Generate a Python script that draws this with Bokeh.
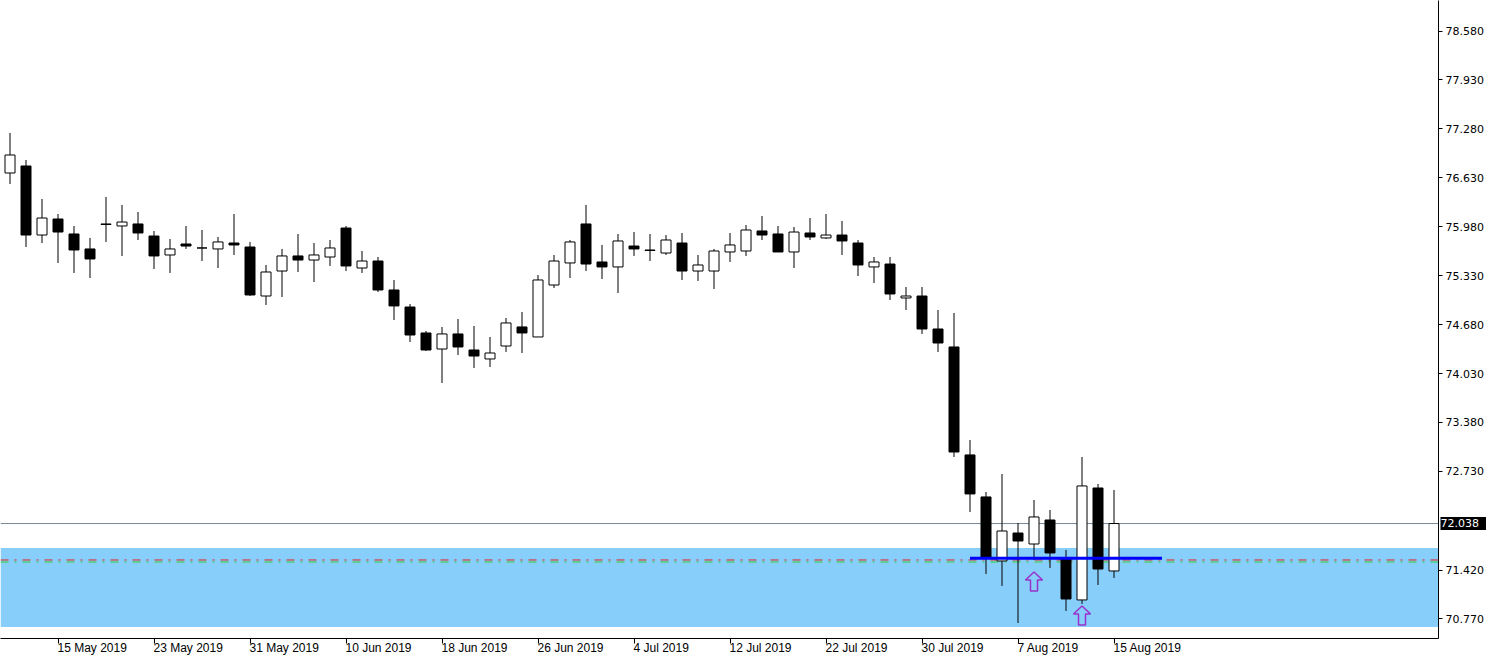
import pandas as pd
from bokeh.plotting import figure
from bokeh.models import (Range1d, LinearAxis, FixedTicker, NumeralTickFormatter,
                          CustomJSTickFormatter, BoxAnnotation, Span, Label, ColumnDataSource)
from bokeh.embed import file_html
from bokeh.resources import INLINE

# ---------------- data (daily candles, 10 May – 15 Aug 2019) ----------------
bar_dates = [d.strftime("%d %b %Y") for d in pd.bdate_range("2019-05-10", "2019-08-15")]

opens = [76.694, 76.787, 75.870, 76.083, 75.884, 75.685, 76.017, 75.990, 76.017, 75.857,
         75.605, 75.751, 75.698, 75.685, 75.764, 75.711, 75.060, 75.392, 75.592, 75.538,
         75.578, 75.963, 75.432, 75.525, 75.140, 74.914, 74.569, 74.356, 74.556, 74.343,
         74.224, 74.396, 74.649, 74.516, 75.206, 75.499, 76.017, 75.512, 75.446, 75.724,
         75.671, 75.631, 75.764, 75.392, 75.392, 75.645, 75.658, 75.924, 75.884, 75.645,
         75.897, 75.831, 75.870, 75.764, 75.446, 75.485, 75.034, 75.060, 74.622, 74.383,
         72.949, 72.391, 71.541, 71.912, 71.766, 72.085, 71.580, 71.023, 72.510, 71.408]
highs = [77.225, 76.867, 76.349, 76.149, 75.990, 75.831, 76.375, 76.269, 76.176, 75.924,
         75.817, 75.990, 75.937, 75.844, 76.149, 75.778, 75.472, 75.685, 75.884, 75.764,
         75.804, 75.990, 75.658, 75.578, 75.273, 74.954, 74.595, 74.649, 74.755, 74.662,
         74.516, 74.768, 74.848, 75.339, 75.605, 75.804, 76.269, 75.738, 75.884, 75.910,
         75.884, 75.870, 75.897, 75.605, 75.685, 75.897, 76.003, 76.123, 75.990, 75.977,
         76.096, 76.149, 76.056, 75.804, 75.578, 75.578, 75.180, 75.180, 74.874, 74.835,
         73.148, 72.457, 72.696, 72.045, 72.351, 72.218, 71.687, 72.922, 72.563, 72.484]
lows = [76.548, 75.711, 75.764, 75.499, 75.366, 75.299, 75.778, 75.592, 75.804, 75.419,
        75.366, 75.685, 75.525, 75.432, 75.605, 75.060, 74.941, 75.047, 75.379, 75.246,
        75.459, 75.392, 75.366, 75.113, 74.742, 74.449, 74.330, 73.905, 74.277, 74.104,
        74.117, 74.317, 74.303, 74.516, 75.167, 75.299, 75.392, 75.286, 75.100, 75.592,
        75.525, 75.605, 75.273, 75.260, 75.153, 75.512, 75.592, 75.804, 75.645, 75.432,
        75.804, 75.817, 75.605, 75.326, 75.233, 75.007, 74.874, 74.556, 74.317, 72.922,
        72.191, 71.368, 71.209, 70.717, 71.554, 71.448, 70.877, 70.970, 71.222, 71.315]
closes = [76.933, 75.870, 76.096, 75.910, 75.671, 75.552, 76.010, 76.043, 75.897, 75.592,
          75.685, 75.724, 75.698, 75.778, 75.738, 75.074, 75.379, 75.592, 75.538, 75.605,
          75.698, 75.459, 75.525, 75.140, 74.928, 74.542, 74.343, 74.556, 74.383, 74.263,
          74.303, 74.702, 74.569, 75.273, 75.525, 75.778, 75.485, 75.446, 75.791, 75.685,
          75.665, 75.804, 75.392, 75.472, 75.658, 75.738, 75.937, 75.870, 75.645, 75.910,
          75.844, 75.870, 75.791, 75.472, 75.512, 75.087, 75.060, 74.622, 74.436, 72.988,
          72.431, 71.580, 71.939, 71.806, 72.125, 71.647, 71.036, 72.537, 71.434, 72.038]

x_tick_index = [3, 9, 15, 21, 27, 33, 39, 45, 51, 57, 63, 69]
x_tick_labels = ["15 May 2019", "23 May 2019", "31 May 2019", "10 Jun 2019", "18 Jun 2019",
                 "26 Jun 2019", "4 Jul 2019", "12 Jul 2019", "22 Jul 2019", "30 Jul 2019",
                 "7 Aug 2019", "15 Aug 2019"]
y_ticks = [70.770, 71.420, 72.730, 73.380, 74.030, 74.680, 75.330, 75.980, 76.630,
           77.280, 77.930, 78.580]

last_price = 72.038
zone_top, zone_bottom = 71.713, 70.664
support_level = 71.578
support_from, support_to = 60, 72
red_level, green_level = 71.554, 71.527
arrow_index = [64, 67]
arrow_price = [71.395, 70.943]

# ---------------- geometry ----------------
FRAME_W, FRAME_H = 1438, 638
PX_PER_BAR = 16.0
PX_PER_UNIT = 75.288
x_start = -9.5 / PX_PER_BAR
x_end = x_start + FRAME_W / PX_PER_BAR
y_top = 78.580 + 30.5 / PX_PER_UNIT
y_bottom = y_top - FRAME_H / PX_PER_UNIT

p = figure(frame_width=FRAME_W, frame_height=FRAME_H,
           x_range=Range1d(x_start, x_end), y_range=Range1d(y_bottom, y_top),
           x_axis_location=None, y_axis_location=None,
           output_backend="svg", toolbar_location=None,
           min_border_left=0, min_border_top=0, min_border_right=56, min_border_bottom=23)
p.outline_line_color = None
p.background_fill_color = "white"
p.border_fill_color = "white"
p.xgrid.grid_line_color = None
p.ygrid.grid_line_color = None

# zone + level lines (beneath candles)
p.add_layout(BoxAnnotation(top=zone_top, bottom=zone_bottom, fill_color="#87CEFA",
                           fill_alpha=1.0, line_color=None, level="underlay"))
p.add_layout(Span(location=last_price, dimension="width", line_color="#778899",
                  line_width=1, level="underlay"))
p.add_layout(Span(location=red_level, dimension="width", line_color="#E8202A",
                  line_width=1, line_dash="8 6 2 6", level="underlay"))
p.add_layout(Span(location=green_level, dimension="width", line_color="#32CD32",
                  line_width=1, line_dash="8 6 2 6", level="underlay"))

# candles
xs = list(range(len(opens)))
src = ColumnDataSource(dict(
    x=xs, date=bar_dates, open=opens, high=highs, low=lows, close=closes,
    top=[max(o, c) for o, c in zip(opens, closes)],
    bottom=[min(o, c) for o, c in zip(opens, closes)],
    fill=["white" if c > o else "black" for o, c in zip(opens, closes)],
))
p.segment(x0="x", y0="low", x1="x", y1="high", source=src, line_color="black", line_width=1)
p.vbar(x="x", width=10 / PX_PER_BAR, top="top", bottom="bottom", source=src,
       fill_color="fill", line_color="black", line_width=1)

# support trend line
p.segment(x0=[support_from], y0=[support_level], x1=[support_to], y1=[support_level],
          line_color="#0000FF", line_width=3)

# hollow up arrows
shape = [(0, 0), (8.5, 8), (3.5, 8), (3.5, 19), (-3.5, 19), (-3.5, 8), (-8.5, 8)]
ax = [[i + dx / PX_PER_BAR for dx, dy in shape] for i in arrow_index]
ay = [[pr - dy / PX_PER_UNIT for dx, dy in shape] for pr in arrow_price]
p.patches(ax, ay, fill_alpha=0, line_color="#9932CC", line_width=1.5)

# right price axis
yaxis = LinearAxis(ticker=FixedTicker(ticks=y_ticks, minor_ticks=[]),
                   formatter=NumeralTickFormatter(format="0.000"),
                   axis_line_color="black", axis_line_width=1,
                   major_tick_out=4, major_tick_in=0, major_tick_line_color="black",
                   minor_tick_line_color=None, major_label_standoff=3,
                   major_label_text_font="DejaVu Sans",
                   major_label_text_font_size="11px", major_label_text_color="black")
p.add_layout(yaxis, "right")

# bottom time axis (labels left-aligned at their tick)
char_w = {" ": 278, "M": 833, "a": 556, "y": 500, "J": 500, "u": 556, "n": 556,
          "l": 222, "A": 667, "g": 556}
def text_w(s, size=12):
    return sum(char_w.get(ch, 556) for ch in s) * size / 1000.0
label_centers = [i + (text_w(s) / 2 - 0.5) / PX_PER_BAR for i, s in zip(x_tick_index, x_tick_labels)]
xaxis = LinearAxis(ticker=FixedTicker(ticks=label_centers, minor_ticks=x_tick_index),
                   formatter=CustomJSTickFormatter(args=dict(c=label_centers, l=x_tick_labels), code="""
                       for (let i = 0; i < c.length; i++) { if (Math.abs(c[i] - tick) < 1e-6) return l[i]; }
                       return "";
                   """),
                   axis_line_color="black", axis_line_width=1,
                   major_tick_out=0, major_tick_in=0, major_tick_line_color=None,
                   minor_tick_out=5, minor_tick_in=0, minor_tick_line_color="black",
                   major_label_standoff=-3,
                   major_label_text_font="Liberation Sans",
                   major_label_text_font_size="12px", major_label_text_color="black")
p.add_layout(xaxis, "below")

# current price tag on the price scale (placed in the right side panel, not clipped)
p.add_layout(Label(x=FRAME_W + 2, x_units="canvas", y=last_price, y_units="data",
                   text=f" {last_price:.3f} ",
                   text_color="white", background_fill_color="black",
                   text_font="DejaVu Sans", text_font_size="11px",
                   text_align="left", text_baseline="middle"), "right")

open("out.html", "w").write(file_html(p, INLINE))
